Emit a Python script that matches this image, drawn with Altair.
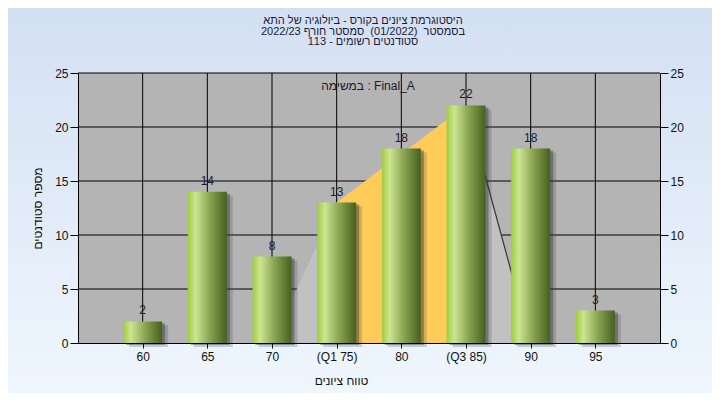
import altair as alt
import pandas as pd

# ---- data ----
grades = [60, 65, 70, 75, 80, 85, 90, 95]
counts = [2, 14, 8, 13, 18, 22, 18, 3]
x_labels = ["60", "65", "70", "(Q1 75)", "80", "(Q3 85)", "90", "95"]
y_ticks = [0, 5, 10, 15, 20, 25]
shape_x = [70, 75, 85, 90]
shape_y = [0, 13, 22, 0]
iqr_x = [75, 85]
iqr_y = [13, 22]
edge_x = [85, 90]
edge_y = [22, 0]

title_lines = [
    "היסטוגרמת ציונים בקורס - ביולוגיה של התא",
    "בסמסטר \u00a0(01/2022) \u00a0סמסטר חורף 2022/23",
    "סטודנטים רשומים - 113",
]
x_title = "טווח ציונים"
y_title = "מספר סטודנטים"
note = "במשימה : Final_A"

W, H = 582, 270
PL, PT, PR, PB = 70, 65, 52, 50
FONT = "Liberation Sans"

bars_df = pd.DataFrame({"g": grades, "n": counts})
shape_df = pd.DataFrame({"x": shape_x, "y": shape_y})
iqr_df = pd.DataFrame({"x": iqr_x, "y": iqr_y})
edge_df = pd.DataFrame({"x": edge_x, "y": edge_y})
ygrid_df = pd.DataFrame({"v": y_ticks[1:]})
xgrid_df = pd.DataFrame({"g": grades})
one = alt.Data(values=[{"a": 1}])

xscale = alt.Scale(domain=[55, 100], nice=False, zero=False, padding=0)
yscale = alt.Scale(domain=[0, 25], nice=False, padding=0)

label_map = " : ".join(
    f"datum.value == {g} ? '{l}'" for g, l in zip(grades, x_labels)
)
label_expr = label_map + " : datum.label"

bottom_axis = alt.Axis(
    values=grades, labelExpr=label_expr, grid=False, tickSize=5, tickColor="black",
    domainColor="black", labelFontSize=12, labelFont=FONT, labelColor="#111111",
    labelPadding=3, title=x_title, titleFontSize=12, titleFont=FONT,
    titleFontWeight="normal", titleColor="#111111", titleX=263, titleY=37,
    titleAlign="center", titleBaseline="middle", zindex=1,
)


def X(field):
    return alt.X(f"{field}:Q", scale=xscale, axis=bottom_axis)


def Y(field, axis=None):
    return alt.Y(f"{field}:Q", scale=yscale, axis=axis)


common_axis = dict(
    values=y_ticks, grid=False, tickSize=8, tickColor="black", domainColor="black",
    labelFontSize=12, labelColor="#111111", labelFont=FONT, labelPadding=2, zindex=1,
)

left_axis = alt.Axis(
    orient="left", title=y_title, titleAngle=270, titleFontSize=12,
    titleFontWeight="normal", titleFont=FONT, titleColor="#111111",
    titlePadding=10, **common_axis,
)
right_axis = alt.Axis(orient="right", title=None, **common_axis)

page_bg = alt.Chart(one).mark_rect(
    fill=alt.Gradient(
        gradient="linear",
        stops=[alt.GradientStop(offset=0, color="#d3e0f2"),
               alt.GradientStop(offset=1, color="#eff6fe")],
        x1=0, x2=0, y1=0, y2=1,
    )
).encode(x=alt.value(-PL), x2=alt.value(W + PR), y=alt.value(-PT), y2=alt.value(H + PB))

plot_bg = alt.Chart(one).mark_rect(fill="#b4b4b4").encode(
    x=alt.value(0), x2=alt.value(W), y=alt.value(0), y2=alt.value(H)
)

hgrid = alt.Chart(ygrid_df).mark_rule(color="black", strokeWidth=1).encode(
    y=Y("v"), x=alt.value(0), x2=alt.value(W)
)
vgrid = alt.Chart(xgrid_df).mark_rule(color="black", strokeWidth=1).encode(
    x=X("g"), y=alt.value(0), y2=alt.value(H)
)

shape = alt.Chart(shape_df).mark_area(color="#c1c1c1").encode(x=X("x"), y=Y("y"))
iqr = alt.Chart(iqr_df).mark_area(color="#ffcc5a").encode(x=X("x"), y=Y("y"))
edge = alt.Chart(edge_df).mark_line(color="#333333", strokeWidth=1.2).encode(
    x=X("x"), y=Y("y")
)

shadow2 = alt.Chart(bars_df).mark_bar(
    size=39, xOffset=6, yOffset=4, color="#404040", opacity=0.22
).encode(x=X("g"), y=Y("n"))
shadow1 = alt.Chart(bars_df).mark_bar(
    size=39, xOffset=3, yOffset=2, color="#303030", opacity=0.4
).encode(x=X("g"), y=Y("n", axis=right_axis))

bars = alt.Chart(bars_df).mark_bar(
    size=39,
    fill=alt.Gradient(
        gradient="linear",
        stops=[
            alt.GradientStop(offset=0, color="#9ecd3c"),
            alt.GradientStop(offset=0.2, color="#cde592"),
            alt.GradientStop(offset=0.55, color="#8ba654"),
            alt.GradientStop(offset=1, color="#46601f"),
        ],
        x1=0, x2=1, y1=0, y2=0,
    ),
).encode(x=X("g"), y=Y("n", axis=left_axis))

labels = alt.Chart(bars_df).mark_text(
    baseline="alphabetic", dy=-7, fontSize=12, font=FONT, color="#1a1a2a"
).encode(x=X("g"), y=Y("n"), text=alt.Text("n:Q"))

note_mark = alt.Chart(one).mark_text(
    fontSize=12, font=FONT, color="#1a1a2a", baseline="middle", align="center"
).encode(x=alt.value(290), y=alt.value(13), text=alt.value(note))

title_mark = alt.Chart(one).mark_text(
    fontSize=11, font=FONT, color="#1a1a3a", baseline="top", align="center",
    lineHeight=10.5,
).encode(
    x=alt.value(285), y=alt.value(-58),
    text=alt.value(title_lines),
)

chart = alt.layer(
    page_bg, plot_bg, hgrid, vgrid, shape, iqr, edge,
    shadow2, shadow1, bars, labels, note_mark, title_mark,
).resolve_scale(y="independent").properties(
    width=W, height=H,
    autosize=alt.AutoSizeParams(type="none"),
    padding={"left": PL, "top": PT, "right": PR, "bottom": PB},
    background="#e3ecf8",
).configure_view(strokeWidth=0)

chart.save("out.html", embed_options={"renderer": "svg", "actions": False})
